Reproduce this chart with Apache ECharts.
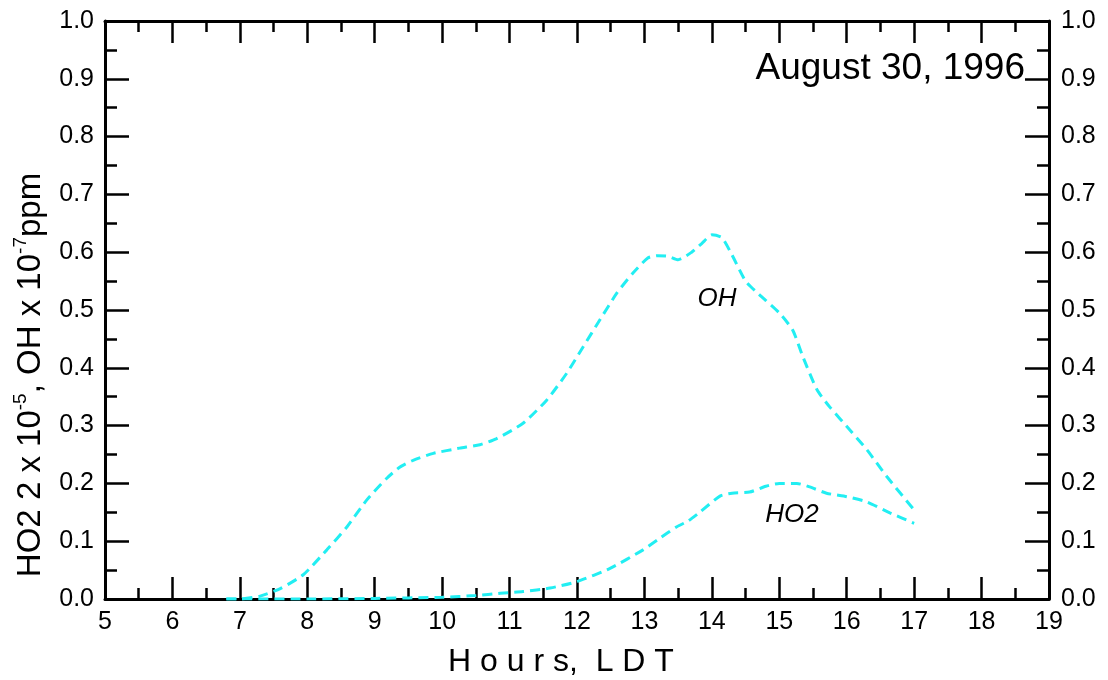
<!DOCTYPE html>
<html>
<head>
<meta charset="utf-8">
<script src="https://cdn.jsdelivr.net/npm/echarts@6/dist/echarts.min.js"></script>
<style>html,body{margin:0;padding:0;background:#fff}#c{width:1108px;height:680px}</style>
</head>
<body>
<div id="c"></div>
<script>
var ohHours = [6.8, 7.0, 7.3, 7.6, 7.94, 8.29, 8.59, 8.88, 9.18, 9.37, 9.57, 9.87, 10.26, 10.56, 10.8, 11.2, 11.55, 11.85, 12.09, 12.34, 12.59, 12.83, 13.05, 13.2, 13.35, 13.5, 13.7, 13.85, 14.0, 14.15, 14.3, 14.5, 14.7, 15.0, 15.2, 15.35, 15.56, 15.75, 16.05, 16.3, 16.6, 17.0];
var ohValues = [0, 0, 0.005, 0.018, 0.042, 0.085, 0.125, 0.171, 0.209, 0.228, 0.24, 0.252, 0.261, 0.267, 0.277, 0.304, 0.344, 0.391, 0.436, 0.483, 0.529, 0.564, 0.59, 0.594, 0.593, 0.587, 0.6, 0.615, 0.63, 0.625, 0.595, 0.55, 0.527, 0.495, 0.465, 0.419, 0.362, 0.332, 0.292, 0.258, 0.211, 0.154];
var ho2Hours = [6.8, 8.0, 9.0, 10.0, 10.5, 10.86, 11.2, 11.6, 12.0, 12.49, 12.98, 13.2, 13.48, 13.65, 13.82, 14.12, 14.3, 14.56, 14.8, 15.0, 15.26, 15.45, 15.7, 16.0, 16.3, 16.64, 17.0];
var ho2Values = [0, 0, 0.001, 0.003, 0.006, 0.01, 0.013, 0.019, 0.03, 0.053, 0.085, 0.103, 0.125, 0.135, 0.15, 0.178, 0.183, 0.185, 0.195, 0.2, 0.2, 0.194, 0.183, 0.177, 0.168, 0.149, 0.131];
var xTickLabels = ['5','6','7','8','9','10','11','12','13','14','15','16','17','18','19'];
var yTickLabels = ['0.0','0.1','0.2','0.3','0.4','0.5','0.6','0.7','0.8','0.9','1.0'];

function pairs(xs, ys){ return xs.map(function(x,i){ return [x, ys[i]]; }); }

var chart = echarts.init(document.getElementById('c'));
var FONT = '"Liberation Sans", Arial, sans-serif';
var axisLine = {show:true, onZero:false, lineStyle:{color:'#000', width:3}};
var tickX = {show:true, inside:true, length:22, lineStyle:{color:'#000', width:2.5}};
var minorX = {show:true, splitNumber:2, length:11, lineStyle:{color:'#000', width:2.5}};
var tickY = {show:true, inside:true, length:24, lineStyle:{color:'#000', width:2.5}};
var minorY = {show:true, splitNumber:2, length:12, lineStyle:{color:'#000', width:2.5}};
var xLabel = {show:true, fontSize:25, color:'#000', fontFamily:FONT, margin:11,
  formatter:function(v){ var i = Math.round(v-5); return xTickLabels[i] !== undefined ? xTickLabels[i] : ''; }};
var yLabelFmt = function(v){ var i = Math.round(v*10); return yTickLabels[i] !== undefined ? yTickLabels[i] : ''; };

chart.setOption({
  animation:false,
  backgroundColor:'#fff',
  grid:{left:105, right:59, top:21, bottom:81},
  xAxis:[
    {type:'value', min:5, max:19, interval:1, position:'bottom',
     axisLine:axisLine, axisTick:tickX, minorTick:minorX, splitLine:{show:false}, minorSplitLine:{show:false},
     axisLabel:xLabel},
    {type:'value', min:5, max:19, interval:1, position:'top',
     axisLine:axisLine, axisTick:tickX, minorTick:minorX, splitLine:{show:false}, axisLabel:{show:false}}
  ],
  yAxis:[
    {type:'value', min:0, max:1, interval:0.1, position:'left',
     axisLine:axisLine, axisTick:tickY, minorTick:minorY, splitLine:{show:false},
     axisLabel:{fontSize:25, color:'#000', fontFamily:FONT, margin:11, formatter:yLabelFmt}},
    {type:'value', min:0, max:1, interval:0.1, position:'right',
     axisLine:axisLine, axisTick:tickY, minorTick:minorY, splitLine:{show:false},
     axisLabel:{fontSize:25, color:'#000', fontFamily:FONT, margin:12, formatter:yLabelFmt}}
  ],
  series:[
    {name:'OH', type:'line', data:pairs(ohHours, ohValues), showSymbol:false, smooth:0.2,
     lineStyle:{color:'#22EEF2', width:3, type:[10,6]}},
    {name:'HO2', type:'line', data:pairs(ho2Hours, ho2Values), showSymbol:false, smooth:0.2,
     lineStyle:{color:'#22EEF2', width:3, type:[10,6]}}
  ],
  graphic:[
    {type:'text', x:1025, y:69, style:{text:'August 30, 1996', font:'37px '+FONT, fill:'#000', textAlign:'right', textVerticalAlign:'middle'}},
    {type:'text', x:717, y:299, style:{text:'OH', font:'italic 26px '+FONT, fill:'#000', textAlign:'center', textVerticalAlign:'middle'}},
    {type:'text', x:792, y:515, style:{text:'HO2', font:'italic 26px '+FONT, fill:'#000', textAlign:'center', textVerticalAlign:'middle'}},
    {type:'text', x:561, y:662, style:{text:'H o u r s,  L D T', font:'32px '+FONT, fill:'#000', textAlign:'center', textVerticalAlign:'middle'}},
    {type:'text', x:29, y:375, rotation:Math.PI/2,
     style:{text:'{n|HO2 2 x 10}{s|-5}{n|, OH x 10}{s|-7}{n|ppm}', fill:'#000', textAlign:'center', textVerticalAlign:'middle',
       rich:{n:{fontSize:33, fontFamily:FONT, color:'#000', lineHeight:36, verticalAlign:'bottom'},
             s:{fontSize:19, fontFamily:FONT, color:'#000', lineHeight:36, verticalAlign:'top', padding:[0,0,15,0]}}}}
  ]
});
</script>
</body>
</html>
